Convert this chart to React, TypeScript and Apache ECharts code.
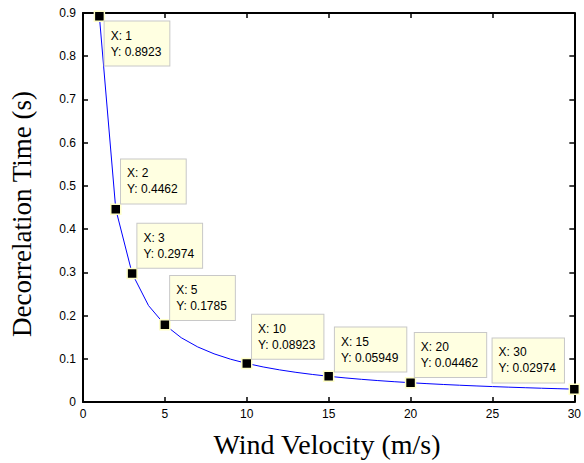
import React, { useEffect, useRef } from "react";
import * as echarts from "echarts";

const lineX = [1,2,3,4,5,6,7,8,9,10,11,12,13,14,15,16,17,18,19,20,21,22,23,24,25,26,27,28,29,30];
const lineY = [0.8923,0.4462,0.2974,0.2231,0.1785,0.1487,0.1275,0.1115,0.09914,0.08923,0.08112,0.07436,0.06864,0.06374,0.05949,0.05577,0.05249,0.04957,0.04696,0.04462,0.04249,0.04056,0.0388,0.03718,0.03569,0.03432,0.03305,0.03187,0.03077,0.02974];
const tipX = [1, 2, 3, 5, 10, 15, 20, 30];
const tipY = ["0.8923", "0.4462", "0.2974", "0.1785", "0.08923", "0.05949", "0.04462", "0.02974"];

const xTitle = "Wind Velocity (m/s)";
const yTitle = "Decorrelation Time (s)";

const X_MIN = 0, X_MAX = 30, Y_MIN = 0, Y_MAX = 0.9;

const mkLine = () => ({ show: true, onZero: false, lineStyle: { color: "#000", width: 2 } });
const mkTick = () => ({ show: true, inside: true, length: 5, lineStyle: { color: "#000", width: 1.5 } });

export default function App() {
  const ref = useRef<HTMLDivElement>(null);
  useEffect(() => {
    if (!ref.current) return;
    const chart = echarts.init(ref.current, null, { renderer: "svg" });
    const tipPos: number[][] = [
      [11, 11],
      [11, -44],
      [11, -44],
      [11, -43],
      [11, -43],
      [12, -43],
      [10, -44],
      [-76, -45],
    ];
    chart.setOption({
      animation: false,
      backgroundColor: "#fff",
      grid: { left: 83, right: 7, top: 13, bottom: 61, containLabel: false },
      xAxis: [
        {
          type: "value", min: X_MIN, max: X_MAX, interval: 5, position: "bottom",
          axisLine: mkLine(), axisTick: mkTick(), splitLine: { show: false },
          axisLabel: { color: "#000", fontSize: 12, fontFamily: "Liberation Sans, Arial", margin: 6 },
        },
        {
          type: "value", min: X_MIN, max: X_MAX, interval: 5, position: "top",
          axisLine: mkLine(), axisTick: mkTick(), splitLine: { show: false }, axisLabel: { show: false },
        },
      ],
      yAxis: [
        {
          type: "value", min: Y_MIN, max: Y_MAX, interval: 0.1, position: "left",
          axisLine: mkLine(), axisTick: mkTick(), splitLine: { show: false },
          axisLabel: { color: "#000", fontSize: 12, fontFamily: "Liberation Sans, Arial", margin: 7 },
        },
        {
          type: "value", min: Y_MIN, max: Y_MAX, interval: 0.1, position: "right",
          axisLine: mkLine(), axisTick: mkTick(), splitLine: { show: false }, axisLabel: { show: false },
        },
      ],
      graphic: [
        {
          type: "text", x: 22, y: 214, rotation: Math.PI / 2,
          style: { text: yTitle, fontFamily: "Liberation Serif, Times New Roman", fontSize: 27, fill: "#000", align: "center", verticalAlign: "middle" },
        },
        {
          type: "text", x: 327, y: 444,
          style: { text: xTitle, fontFamily: "Liberation Serif, Times New Roman", fontSize: 28, fill: "#000", align: "center", verticalAlign: "middle" },
        },
      ],
      series: [
        {
          type: "line",
          data: lineX.map((x, i) => [x, lineY[i]]),
          showSymbol: false,
          symbol: "none",
          lineStyle: { color: "#0000ff", width: 1 },
          silent: true,
        },
        {
          type: "scatter",
          symbol: "rect",
          symbolSize: 10,
          itemStyle: { color: "#000", borderColor: "#ffffc8", borderWidth: 1.5, opacity: 1 },
          data: tipX.map((x, i) => ({
            value: [x, parseFloat(tipY[i])],
            label: {
              show: true,
              formatter: "X: " + x + "\nY: " + tipY[i],
              position: tipPos[i],
              align: "left",
              verticalAlign: "top",
              backgroundColor: "#ffffe1",
              borderColor: "#c8c8c8",
              borderWidth: 1,
              padding: [6, 8, 6, 6],
              lineHeight: 16,
              fontSize: 12,
              fontFamily: "Liberation Sans, Arial",
              color: "#000",
            },
          })),
          z: 5,
        },
      ],
    });
    return () => chart.dispose();
  }, []);
  return <div ref={ref} style={{ position: "absolute", left: 0, top: 0, width: 584, height: 463 }} />;
}
